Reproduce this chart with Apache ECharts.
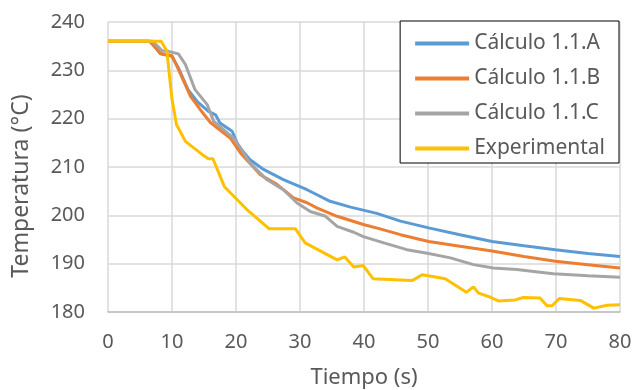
<!DOCTYPE html>
<html>
<head>
<meta charset="utf-8">
<script src="https://cdn.jsdelivr.net/npm/echarts@6/dist/echarts.min.js"></script>
<style>
  html, body { margin: 0; padding: 0; background: #fff; }
  #chart { width: 634px; height: 390px; }
</style>
</head>
<body>
<div id="chart"></div>
<script>
// datos: [tiempo (s), temperatura (°C)]
var calcA = [[0,236],[6.5,236],[7.1,235.3],[8.2,233.4],[10,232.9],[11,230.5],[12.5,226],[13.9,223.6],[15.7,221.5],
	[16.8,220.8],[17.5,219.1],[19.4,217.4],[20.4,214.3],[22.2,211.5],[24.3,209.5],[27.4,207.4],[31.1,205.3],
	[34.7,202.9],[37.9,201.7],[42,200.4],[45.7,198.8],[50.1,197.4],[55,196],[60,194.6],[65,193.7],[69.9,192.9],
	[75,192.1],[80,191.5]];
var calcB = [[0,236],[6.5,236],[7.2,235],[8.2,233.5],[10,233],[11,230.2],[12.9,224.6],[14.4,221.9],[16,219.2],
	[19.1,216],[20.7,212.9],[23.8,208.4],[26.4,206.4],[29,203.6],[31.1,202.6],[32.7,201.5],[35.8,199.8],
	[39.9,198.1],[42.5,197.2],[45.7,196],[50.1,194.6],[55,193.6],[60,192.6],[65,191.5],[69.9,190.5],[75,189.8],[80,189.1]];
var calcC = [[0,236],[7,236],[8.5,234],[9.2,234],[11,233.4],[12.1,231.2],[13.6,226],[15.5,222.9],[16.5,219.5],
	[18.6,217.1],[19.6,216],[20.7,214],[22.2,210.8],[24.8,207.4],[27.4,205.3],[29.5,202.6],[31.6,200.8],
	[34,199.8],[35.8,197.7],[38.4,196.5],[39.9,195.6],[43.1,194.3],[46.7,192.9],[50.1,192.1],[53.5,191.2],
	[57.1,189.8],[60.2,189.1],[63.9,188.8],[66.5,188.4],[69.6,187.9],[75,187.5],[80,187.2]];
var experimental = [[0,236],[8.3,236],[9.2,234],[10,224],[10.7,218.8],[12.1,215.3],[14.7,212.6],[15.7,211.7],
	[16.4,211.7],[18.2,205.9],[21.7,201.2],[25.2,197.2],[29.3,197.2],[30.8,194.3],[35.8,190.8],[37,191.4],
	[38.4,189.3],[39.9,189.6],[41.4,186.9],[47.5,186.5],[49.1,187.7],[52.7,186.9],[56,184.1],[57.1,185.2],
	[57.9,183.9],[59.7,183.1],[61,182.3],[63.6,182.5],[64.9,183],[67.5,182.9],[68.6,181.3],[69.4,181.3],
	[70.5,182.8],[73.8,182.4],[75.9,180.8],[78,181.4],[80,181.5]];
var nombres = ['Cálculo 1.1.A', 'Cálculo 1.1.B', 'Cálculo 1.1.C', 'Experimental'];
var colores = ['#5B9BD5', '#ED7D31', '#A5A5A5', '#FFC000'];

var chartObj = echarts.init(document.getElementById('chart'));
var fuente = 'Noto Sans';

function serie(i, datos) {
	return {
		type: 'line',
		name: nombres[i],
		data: datos,
		showSymbol: false,
		symbol: 'none',
		lineStyle: { color: colores[i], width: 3 },
		itemStyle: { color: colores[i] },
		z: 2 + i
	};
}

var option = {
	backgroundColor: '#fff',
	animation: false,
	textStyle: { fontFamily: fuente },
	grid: { left: 108, right: 14, top: 22, bottom: 78, containLabel: false, outerBoundsMode: 'none' },
	legend: {
		orient: 'vertical',
		right: 15,
		top: 21,
		padding: [12, 14, 4, 15],
		backgroundColor: '#fff',
		borderColor: '#000',
		borderWidth: 1,
		borderRadius: 0,
		icon: 'rect',
		itemWidth: 54,
		itemHeight: 4,
		itemGap: 14,
		textStyle: { fontFamily: fuente, fontSize: 21, color: '#595959' },
		data: nombres
	},
	xAxis: {
		type: 'value',
		min: 0, max: 80, interval: 10,
		name: 'Tiempo (s)',
		nameLocation: 'middle',
		nameGap: 55,
		nameTextStyle: { fontSize: 22, color: '#595959', fontFamily: fuente },
		axisLine: { show: true, lineStyle: { color: '#bfbfbf', width: 1.5 } },
		axisTick: { show: false },
		axisLabel: { fontSize: 20, color: '#595959', margin: 20 },
		splitLine: { show: true, lineStyle: { color: '#d9d9d9', width: 1.5 } }
	},
	yAxis: {
		type: 'value',
		min: 180, max: 240, interval: 10,
		name: 'Temperatura (°C)',
		nameLocation: 'middle',
		nameGap: 75,
		nameTextStyle: { fontSize: 23, color: '#595959', fontFamily: fuente, padding: [0, 38, 0, 0] },
		axisLine: { show: false },
		axisTick: { show: false },
		axisLabel: { fontSize: 20, color: '#595959', margin: 23 },
		splitLine: { show: true, lineStyle: { color: '#d9d9d9', width: 1.5 } }
	},
	series: [
		serie(0, calcA),
		serie(1, calcB),
		serie(2, calcC),
		serie(3, experimental)
	]
};
chartObj.setOption(option);
</script>
</body>
</html>
